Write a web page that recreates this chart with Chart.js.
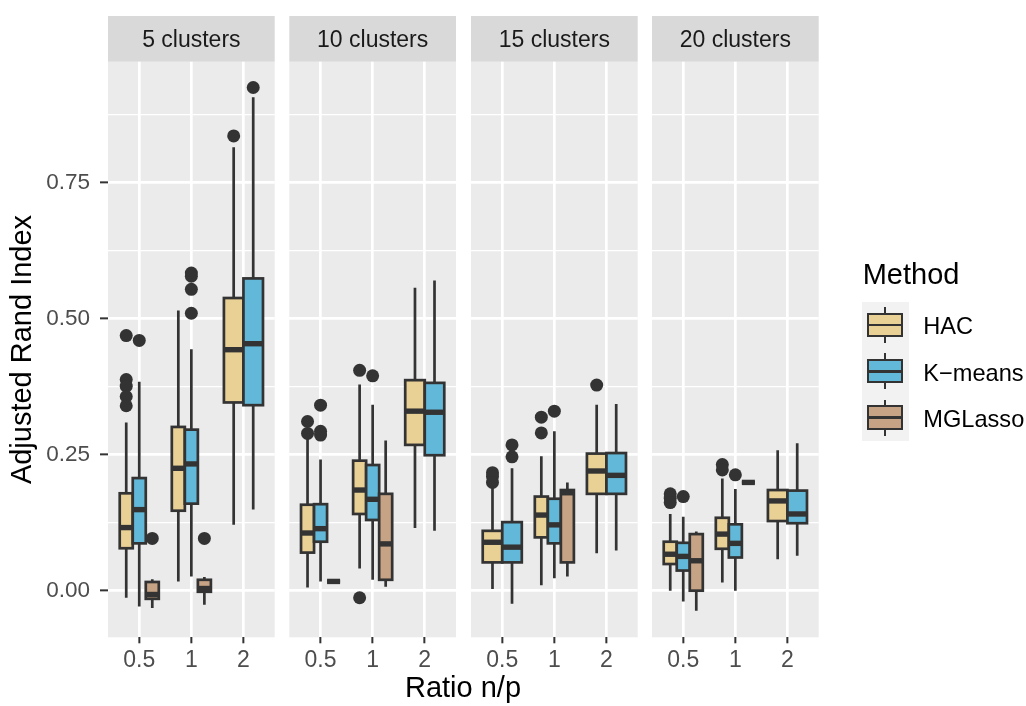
<!DOCTYPE html>
<html lang="en">
<head>
<meta charset="UTF-8">
<title>Adjusted Rand Index by method</title>
<script src="https://cdn.jsdelivr.net/npm/chart.js"></script>
<style>
  body { margin: 0; background: #fff; font-family: "Liberation Sans", Arial, sans-serif; }
  #wrap { position: relative; width: 1026px; height: 706px; overflow: hidden; }
  #wrap canvas { position: absolute; left: 0; top: 0; }
  .txt { position: absolute; white-space: nowrap; color: #000; }
  .xtitle { left: 313px; width: 300px; top: 672.5px; text-align: center; font-size: 29px; line-height: 29px; }
  .ltitle { left: 862.7px; top: 259.8px; font-size: 29px; line-height: 29px; }
  .keybg { position: absolute; left: 862px; top: 301.7px; width: 47px; height: 139px; background: #F2F2F2; }
  .whisk { position: absolute; left: 883.7px; width: 2.6px; height: 36px; background: #333; }
  .kbox { position: absolute; left: 866.7px; width: 36.6px; height: 24.4px; box-sizing: border-box; border: 2.7px solid #333; }
  .kmed { position: absolute; left: 0; right: 0; top: 50%; height: 2.7px; margin-top: -1.35px; background: #333; }
  .lab { left: 923.3px; font-size: 23.6px; line-height: 23px; }
</style>
</head>
<body>
<div id="wrap">
  <canvas id="p0" width="1026" height="706"></canvas>
  <canvas id="p1" width="1026" height="706"></canvas>
  <canvas id="p2" width="1026" height="706"></canvas>
  <canvas id="p3" width="1026" height="706"></canvas>
  <div class="txt xtitle">Ratio n/p</div>
  <div class="txt ltitle">Method</div>
  <div class="keybg"></div>
  <div id="legend"></div>
</div>
<script>
// facets, x categories and groups
const facets = ['5 clusters', '10 clusters', '15 clusters', '20 clusters'];
const ratios = ['0.5', '1', '2'];
const methods = ['HAC', 'K\u2212means', 'MGLasso'];
const colors = ['#E9D095', '#62B8D8', '#C6A384'];

// y axis
const yMin = -0.0857, yMax = 0.9724;
const yTicks = [0, 0.25, 0.5, 0.75];
const yMinor = [0.125, 0.375, 0.625, 0.875];

// box stats per facet, per ratio: [lower whisker, q1, median, q3, upper whisker]
const hacStats = [
  [[-0.013, 0.078, 0.116, 0.179, 0.309], [0.017, 0.147, 0.225, 0.301, 0.515], [0.121, 0.346, 0.443, 0.538, 0.815]],
  [[0.006, 0.070, 0.106, 0.158, 0.284], [0.041, 0.141, 0.185, 0.239, 0.379], [0.115, 0.268, 0.330, 0.387, 0.557]],
  [[0.003, 0.052, 0.089, 0.110, 0.189], [0.010, 0.098, 0.139, 0.173, 0.247], [0.069, 0.178, 0.220, 0.252, 0.342]],
  [[0.000, 0.049, 0.067, 0.090, 0.141], [0.015, 0.077, 0.104, 0.134, 0.206], [0.058, 0.128, 0.165, 0.185, 0.258]]
];
const kmeansStats = [
  [[-0.029, 0.087, 0.149, 0.207, 0.384], [0.026, 0.160, 0.233, 0.296, 0.444], [0.149, 0.341, 0.454, 0.574, 0.907]],
  [[0.017, 0.090, 0.114, 0.159, 0.241], [0.020, 0.130, 0.168, 0.231, 0.342], [0.110, 0.249, 0.328, 0.382, 0.570]],
  [[-0.024, 0.052, 0.080, 0.126, 0.225], [0.023, 0.087, 0.121, 0.169, 0.293], [0.074, 0.178, 0.212, 0.253, 0.343]],
  [[-0.020, 0.037, 0.063, 0.088, 0.136], [0.000, 0.061, 0.087, 0.122, 0.187], [0.064, 0.124, 0.141, 0.184, 0.271]]
];
const mglassoStats = [
  [[-0.032, -0.015, -0.007, 0.016, 0.021], [-0.026, -0.002, 0.004, 0.020, 0.025], null],
  [[0.017, 0.017, 0.017, 0.017, 0.017], [0.007, 0.020, 0.086, 0.178, 0.276], null],
  [null, [0.026, 0.052, 0.180, 0.185, 0.199], null],
  [[-0.037, 0.000, 0.055, 0.104, 0.109], [0.199, 0.199, 0.199, 0.199, 0.199], null]
];

// outliers per facet, per ratio
const hacOutliers = [
  [[0.469, 0.388, 0.376, 0.357, 0.340], [], [0.836]],
  [[0.311, 0.289], [0.405, -0.013], []],
  [[0.217, 0.210, 0.199], [0.319, 0.290], [0.378]],
  [[0.178, 0.170, 0.162], [0.232, 0.222], []]
];
const kmeansOutliers = [
  [[0.460], [0.584, 0.578, 0.554, 0.510], [0.925]],
  [[0.341, 0.293, 0.286], [0.395], []],
  [[0.268, 0.246], [0.330], []],
  [[0.173], [0.213], []]
];
const mglassoOutliers = [
  [[0.096], [0.096], []],
  [[], [], []],
  [[], [], []],
  [[], [], []]
];

const stats = [hacStats, kmeansStats, mglassoStats];
const outliers = [hacOutliers, kmeansOutliers, mglassoOutliers];

// layout
const FONT = '"Liberation Sans", Arial, sans-serif';
const panelLeft = [108, 289.3, 471, 652];
const panelWidth = 166.7;
const panelTop = 61.7, panelBottom = 637.3, stripTop = 16;
const dodge = 0.75;

const isMajor = v => Math.abs(v / 0.25 - Math.round(v / 0.25)) < 1e-6;

// dodged centre and slot width of one box
function dodgePos(f, ri, mi) {
  const present = [0, 1, 2].filter(m => stats[m][f][ri]);
  const slot = dodge / present.length;
  const k = present.indexOf(mi);
  return { cx: ri + 1 - dodge / 2 + (k + 0.5) * slot, slot };
}

function panelPlugin(f) {
  return {
    id: 'panel' + f,
    beforeDraw(chart) {
      const { ctx, chartArea: a } = chart;
      ctx.save();
      ctx.fillStyle = '#EBEBEB';
      ctx.fillRect(a.left, a.top, a.width, a.height);
      ctx.fillStyle = '#D9D9D9';
      ctx.fillRect(a.left, stripTop, a.width, a.top - stripTop);
      ctx.fillStyle = '#1A1A1A';
      ctx.font = '23px ' + FONT;
      ctx.textAlign = 'center';
      ctx.textBaseline = 'middle';
      ctx.fillText(facets[f], (a.left + a.right) / 2, 40.6);
      ctx.restore();
    },
    beforeDatasetsDraw(chart) {
      const { ctx, scales: { x, y } } = chart;
      ctx.save();
      ctx.strokeStyle = '#333333';
      ratios.forEach((r, ri) => {
        methods.forEach((m, mi) => {
          const s = stats[mi][f][ri];
          if (!s) return;
          const [lo, q1, med, q3, hi] = s;
          const { cx, slot } = dodgePos(f, ri, mi);
          const xl = x.getPixelForValue(cx - slot / 2);
          const xr = x.getPixelForValue(cx + slot / 2);
          const xc = x.getPixelForValue(cx);
          // whiskers
          ctx.lineWidth = 2.7;
          ctx.beginPath();
          ctx.moveTo(xc, y.getPixelForValue(lo));
          ctx.lineTo(xc, y.getPixelForValue(q1));
          ctx.moveTo(xc, y.getPixelForValue(q3));
          ctx.lineTo(xc, y.getPixelForValue(hi));
          ctx.stroke();
          // box
          const yt = y.getPixelForValue(q3), yb = y.getPixelForValue(q1);
          ctx.fillStyle = colors[mi];
          ctx.fillRect(xl, yt, xr - xl, yb - yt);
          ctx.strokeRect(xl, yt, xr - xl, yb - yt);
          // median
          ctx.lineWidth = 5.4;
          ctx.beginPath();
          ctx.moveTo(xl, y.getPixelForValue(med));
          ctx.lineTo(xr, y.getPixelForValue(med));
          ctx.stroke();
        });
      });
      ctx.restore();
    }
  };
}

function makePanel(f) {
  const first = f === 0;
  const left = panelLeft[f];
  const datasets = methods.map((m, mi) => ({
    label: m,
    data: ratios.flatMap((r, ri) => outliers[mi][f][ri].map(v => ({ x: dodgePos(f, ri, mi).cx, y: v }))),
    backgroundColor: '#333333',
    borderWidth: 0,
    pointRadius: 6.5,
    pointHoverRadius: 6.5
  }));
  return new Chart(document.getElementById('p' + f), {
    type: 'scatter',
    data: { datasets },
    options: {
      responsive: false,
      animation: false,
      events: [],
      layout: { padding: { left: first ? 0 : left, right: 1026 - left - panelWidth, top: panelTop, bottom: 0 } },
      plugins: { legend: { display: false }, tooltip: { enabled: false } },
      scales: {
        x: {
          type: 'linear', min: 0.4, max: 3.6,
          afterBuildTicks: s => { s.ticks = ratios.map((r, i) => ({ value: i + 1 })); },
          afterFit: s => { s.height = 706 - panelBottom; },
          grid: { color: '#FFFFFF', lineWidth: 2.7, tickColor: '#333333', tickLength: 6, tickWidth: 2 },
          border: { display: false },
          ticks: {
            callback: v => ratios[v - 1],
            color: '#4D4D4D', font: { size: 23, family: FONT },
            padding: 4, maxRotation: 0, autoSkip: false
          }
        },
        y: {
          type: 'linear', min: yMin, max: yMax,
          afterBuildTicks: s => { s.ticks = yTicks.concat(yMinor).sort((a, b) => a - b).map(v => ({ value: v })); },
          afterFit: s => { s.width = first ? panelLeft[0] : 0; },
          grid: {
            color: '#FFFFFF',
            lineWidth: c => (c.tick && isMajor(c.tick.value)) ? 2.7 : 1.35,
            drawTicks: first, tickLength: 8, tickWidth: 2,
            tickColor: c => (c.tick && isMajor(c.tick.value)) ? '#333333' : 'rgba(0,0,0,0)'
          },
          border: { display: false },
          ticks: {
            display: first,
            callback: v => isMajor(v) ? v.toFixed(2) : '',
            color: '#4D4D4D', font: { size: 22.5, family: FONT }, padding: 10
          },
          title: {
            display: first, text: 'Adjusted Rand Index', color: '#000000',
            font: { size: 29, family: FONT }, padding: { top: 6, bottom: 0 }
          }
        }
      }
    },
    plugins: [panelPlugin(f)]
  });
}

facets.forEach((name, f) => makePanel(f));

// legend keys
const legend = document.getElementById('legend');
methods.forEach((m, mi) => {
  const c = 301.7 + 46.33 * (mi + 0.5);
  legend.insertAdjacentHTML('beforeend',
    '<div class="whisk" style="top:' + (c - 18) + 'px"></div>' +
    '<div class="kbox" style="top:' + (c - 12.2) + 'px;background:' + colors[mi] + '"><div class="kmed"></div></div>' +
    '<div class="txt lab" style="top:' + (c - 9.5) + 'px">' + m + '</div>');
});
</script>
</body>
</html>
